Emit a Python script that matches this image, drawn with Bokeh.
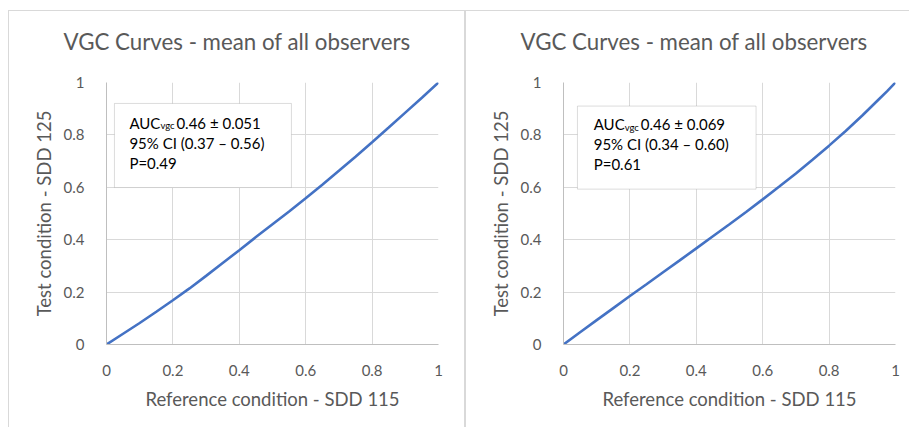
from bokeh.plotting import figure
from bokeh.layouts import row
from bokeh.models import FixedTicker, Label, BoxAnnotation, Title
from bokeh.embed import file_html
from bokeh.resources import INLINE

# ---- data ----
left_x = [0, 0.05, 0.1, 0.15, 0.2, 0.25, 0.3, 0.35, 0.4, 0.45, 0.5, 0.55,
          0.6, 0.65, 0.7, 0.75, 0.8, 0.85, 0.9, 0.95, 1.0]
left_y = [0, 0.041, 0.082, 0.125, 0.169, 0.214, 0.262, 0.311, 0.36, 0.41, 0.459,
          0.508, 0.558, 0.61, 0.663, 0.717, 0.772, 0.828, 0.885, 0.942, 1.0]
right_x = [0, 0.05, 0.1, 0.15, 0.2, 0.25, 0.3, 0.35, 0.4, 0.45, 0.5, 0.55,
           0.6, 0.65, 0.7, 0.75, 0.8, 0.85, 0.9, 0.95, 0.975, 1.0]
right_y = [0, 0.047, 0.093, 0.139, 0.185, 0.23, 0.276, 0.321, 0.367, 0.413, 0.459,
           0.506, 0.554, 0.603, 0.653, 0.705, 0.759, 0.815, 0.874, 0.936, 0.967, 1.0]

ticks = [0, 0.2, 0.4, 0.6, 0.8, 1]
tick_labels = ["0", "0.2", "0.4", "0.6", "0.8", "1"]

title_text = "VGC Curves - mean of all observers"
x_label = "Reference condition - SDD 115"
y_label = "Test condition - SDD 125"

left_stats = ["0.46 ± 0.051", "95% CI (0.37 – 0.56)", "P=0.49"]
right_stats = ["0.46 ± 0.069", "95% CI (0.34 – 0.60)", "P=0.61"]

FONT = "Lato"
GREY = "#595959"
LINE = "#4472C4"


def make_panel(xs, ys, stats, width, box, text_x, styles, title_offset):
    p = figure(width=width, height=417, x_range=(0, 1), y_range=(0, 1),
               output_backend="svg", toolbar_location=None, tools="",
               min_border_left=97, min_border_right=width - 97 - 332,
               min_border_top=71, min_border_bottom=417 - 71 - 262)
    p.styles = styles
    p.outline_line_color = None
    p.background_fill_color = "white"
    p.border_fill_color = "white"

    # spacer between frame and title
    p.add_layout(Title(text=" ", text_font_size="2px", standoff=19), "above")

    p.title.text = title_text
    p.title.text_font = FONT
    p.title.text_font_size = "22.3px"
    p.title.text_font_style = "normal"
    p.title.text_color = GREY
    p.title.align = "left"
    p.title.offset = title_offset
    p.title.standoff = 10

    for ax in (p.xaxis, p.yaxis):
        ax.ticker = FixedTicker(ticks=ticks)
        ax.major_label_overrides = {t: l for t, l in zip(ticks, tick_labels)}
        ax.major_tick_line_color = None
        ax.minor_tick_line_color = None
        ax.axis_line_color = "#bfbfbf"
        ax.axis_line_width = 1
        ax.major_label_text_font = FONT
        ax.major_label_text_font_size = "15px"
        ax.major_label_text_color = GREY
        ax.axis_label_text_font = FONT
        ax.axis_label_text_font_size = "18.5px"
        ax.axis_label_text_font_style = "normal"
        ax.axis_label_text_color = GREY
    p.xaxis.axis_label = x_label
    p.yaxis.axis_label = y_label
    p.xaxis.major_label_standoff = 14
    p.yaxis.major_label_standoff = 16
    p.xaxis.axis_label_standoff = 9
    p.yaxis.axis_label_standoff = 6

    p.xgrid.ticker = FixedTicker(ticks=ticks)
    p.ygrid.ticker = FixedTicker(ticks=ticks)
    p.grid.grid_line_color = "#d9d9d9"
    p.grid.grid_line_width = 1

    p.line(xs, ys, line_color=LINE, line_width=2.6)

    bl, br, bt, bb = box
    p.add_layout(BoxAnnotation(left=bl, right=br, top=bt, bottom=bb,
                               fill_color="white", fill_alpha=1.0,
                               line_color="#8c8c8c", line_width=1, level="overlay"))
    tx, ty = text_x
    common = dict(x_units="data", y_units="data", text_font=FONT, text_color="#000000",
                  text_baseline="middle", level="overlay")
    p.add_layout(Label(x=tx, y=ty, text="AUC", text_font_size="15px", **common))
    p.add_layout(Label(x=tx, y=ty, x_offset=31, y_offset=-3, text="vgc",
                       text_font_size="9.5px", **common))
    p.add_layout(Label(x=tx, y=ty, x_offset=47, text=stats[0], text_font_size="15px", **common))
    p.add_layout(Label(x=tx, y=ty, y_offset=-20, text=stats[1], text_font_size="15px", **common))
    p.add_layout(Label(x=tx, y=ty, y_offset=-40, text=stats[2], text_font_size="15px", **common))
    return p


left = make_panel(left_x, left_y, left_stats, 457, (0.024, 0.557, 0.920, 0.599), (0.069, 0.847),
                  {"border": "1px solid #d9d9d9", "border-bottom": "none",
                   "margin-top": "10px", "margin-left": "8px", "box-sizing": "border-box"}, -43)
right = make_panel(right_x, right_y, right_stats, 444, (0.042, 0.580, 0.910, 0.593), (0.091, 0.840),
                   {"border-left": "1px solid #d9d9d9", "border-top": "1px solid #d9d9d9",
                    "margin-top": "10px", "box-sizing": "border-box"}, -43)

layout = row(left, right, spacing=0)
open("out.html", "w").write(file_html(layout, INLINE))
